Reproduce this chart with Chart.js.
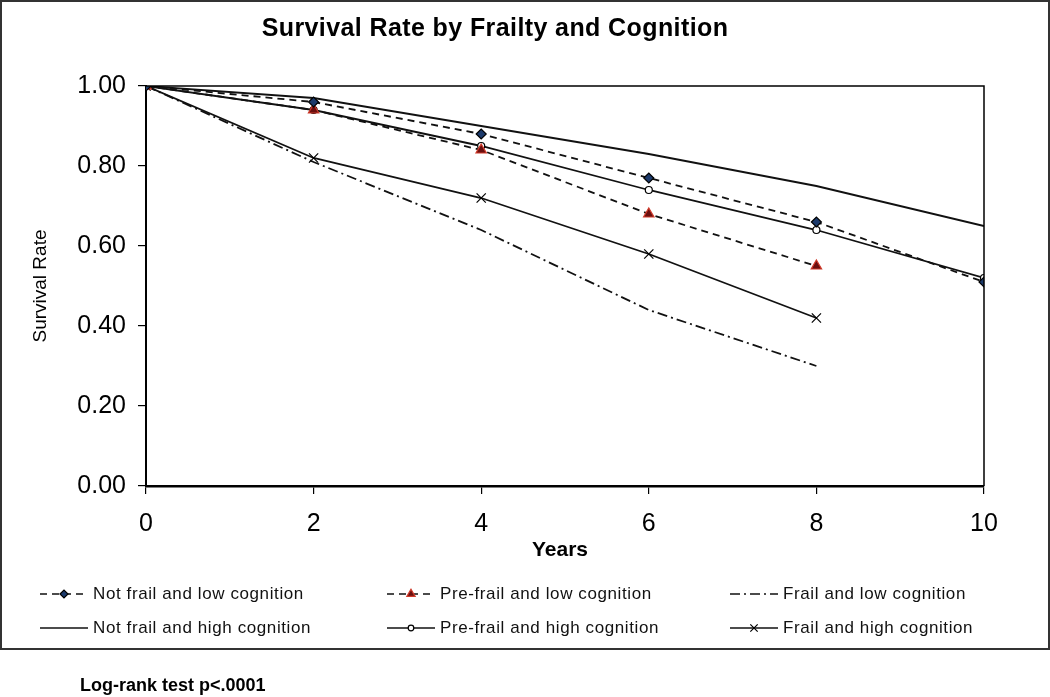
<!DOCTYPE html>
<html>
<head>
<meta charset="utf-8">
<script src="https://cdn.jsdelivr.net/npm/chart.js@4/dist/chart.umd.min.js"></script>
<style>
  html, body { margin:0; padding:0; background:#fff; }
  #wrap { position:relative; width:1050px; height:697px; overflow:hidden; font-family:"Liberation Sans", Arial, sans-serif; color:#000; }
  #frame { position:absolute; left:0; top:0; width:1050px; height:650px; box-sizing:border-box; border:2px solid #333; pointer-events:none; }
  canvas { position:absolute; left:0; top:0; }
  .t { position:absolute; white-space:nowrap; }
  #title { left:0; width:990px; top:27px; text-align:center; font-weight:bold; font-size:25px; letter-spacing:0.4px; transform:translateY(-50%); }
  #ytitle { left:40px; top:286px; font-size:19px; transform:translate(-50%,-50%) rotate(-90deg); }
  #xtitle { left:560px; top:549px; font-size:21px; font-weight:bold; transform:translate(-50%,-50%); }
  .lg { font-size:17px; letter-spacing:0.6px; transform:translateY(-50%); color:#111; }
  #note { left:80px; top:685px; font-size:18px; font-weight:bold; transform:translateY(-50%); }
</style>
</head>
<body>
<div id="wrap">
  <canvas id="c" width="1050" height="697"></canvas>
  <div id="frame"></div>
  <div class="t" id="title">Survival Rate by Frailty and Cognition</div>
  <div class="t" id="ytitle">Survival Rate</div>
  <div class="t" id="xtitle">Years</div>
  <div class="t" id="note">Log-rank test p&lt;.0001</div>
</div>
<script>
// ---- data ----
const years = [0, 2, 4, 6, 8, 10];
const seriesNames = [
  "Not frail and low cognition",
  "Pre-frail and low cognition",
  "Frail and low cognition",
  "Not frail and high cognition",
  "Pre-frail and high cognition",
  "Frail and high cognition"
];
const notFrailLow  = [1.00, 0.96, 0.88, 0.77, 0.66, 0.51];
const preFrailLow  = [1.00, 0.94, 0.84, 0.68, 0.55, null];
const frailLow     = [1.00, 0.81, 0.64, 0.44, 0.30, null];
const notFrailHigh = [1.00, 0.97, 0.90, 0.83, 0.75, 0.65];
const preFrailHigh = [1.00, 0.94, 0.85, 0.74, 0.64, 0.52];
const frailHigh    = [1.00, 0.82, 0.72, 0.58, 0.42, null];
const yTicks = [0, 0.2, 0.4, 0.6, 0.8, 1.0];
const xTicks = [0, 2, 4, 6, 8, 10];

const seriesValues = [notFrailLow, preFrailLow, frailLow, notFrailHigh, preFrailHigh, frailHigh];

function pts(vals) {
  const out = [];
  vals.forEach((v, i) => { if (v !== null) out.push({ x: years[i], y: v }); });
  return out;
}

const styles = [
  { dash: [7, 5], pointStyle: 'rectRot', radius: 5, bg: '#1c3a6b', bc: '#000' },
  { dash: [7, 5], pointStyle: 'triangle', radius: 6, bg: '#6b0f0f', bc: '#d03a2a' },
  { dash: [10, 4, 2, 4], pointStyle: false, radius: 0, bg: '#000', bc: '#000' },
  { dash: [], pointStyle: false, radius: 0, bg: '#000', bc: '#000' },
  { dash: [], pointStyle: 'circle', radius: 3.5, bg: '#fff', bc: '#000' },
  { dash: [], pointStyle: 'crossRot', radius: 6.5, bg: '#000', bc: '#000' }
];

const datasets = seriesValues.map((vals, i) => ({
  label: seriesNames[i],
  data: pts(vals),
  borderColor: '#111',
  borderWidth: 1.8,
  borderDash: styles[i].dash,
  pointStyle: styles[i].pointStyle || 'circle',
  pointRadius: styles[i].radius,
  pointBackgroundColor: styles[i].bg,
  pointBorderColor: styles[i].bc,
  pointBorderWidth: 1.2,
  tension: 0,
  fill: false
}));

const legendCols = [40, 387, 730];
const legendRows = [594, 628];
const sampleLen = 48;

const framePlugin = {
  id: 'framePlugin',
  afterDraw(chart) {
    const ctx = chart.ctx;
    const a = chart.chartArea;
    ctx.save();
    ctx.strokeStyle = '#000';
    ctx.lineWidth = 1.5;
    ctx.beginPath();
    ctx.moveTo(a.left, a.top); ctx.lineTo(a.right, a.top); ctx.lineTo(a.right, a.bottom);
    ctx.stroke();
    ctx.restore();
  },
  afterDatasetsDraw(chart) {
    const ctx = chart.ctx;
    chart.data.datasets.forEach((ds, i) => {
      const col = legendCols[i % 3];
      const y = legendRows[Math.floor(i / 3)];
      ctx.save();
      ctx.strokeStyle = ds.borderColor;
      ctx.lineWidth = 1.4;
      ctx.setLineDash(ds.borderDash);
      ctx.beginPath();
      ctx.moveTo(col, y); ctx.lineTo(col + sampleLen, y);
      ctx.stroke();
      ctx.setLineDash([]);
      if (ds.pointRadius > 0) {
        ctx.fillStyle = ds.pointBackgroundColor;
        ctx.strokeStyle = ds.pointBorderColor;
        ctx.lineWidth = ds.pointBorderWidth;
        Chart.helpers.drawPoint(ctx, { pointStyle: ds.pointStyle, radius: ds.pointRadius * 0.8, rotation: 0, borderWidth: ds.pointBorderWidth }, col + sampleLen / 2, y);
      }
      ctx.restore();
    });
  }
};

const wrap = document.getElementById('wrap');
seriesNames.forEach((name, i) => {
  const d = document.createElement('div');
  d.className = 't lg';
  d.textContent = name;
  d.style.left = (legendCols[i % 3] + sampleLen + 5) + 'px';
  d.style.top = legendRows[Math.floor(i / 3)] + 'px';
  wrap.appendChild(d);
});

new Chart(document.getElementById('c'), {
  type: 'line',
  data: { datasets },
  plugins: [framePlugin],
  options: {
    responsive: false,
    animation: false,
    events: [],
    layout: { padding: { top: 86, right: 66, bottom: 0, left: 0 } },
    plugins: { legend: { display: false }, title: { display: false }, tooltip: { enabled: false } },
    scales: {
      x: {
        type: 'linear', min: 0, max: 10,
        afterBuildTicks(s) { s.ticks = xTicks.map(v => ({ value: v })); },
        afterFit(s) { s.height = 697 - 486; },
        grid: { display: true, drawOnChartArea: false, drawTicks: true, tickLength: 8, color: '#000', lineWidth: 1.2 },
        border: { display: true, color: '#000', width: 2.5 },
        ticks: { color: '#000', font: { family: 'Liberation Sans', size: 25 }, padding: 15, callback: v => String(v) }
      },
      y: {
        type: 'linear', min: 0, max: 1,
        afterBuildTicks(s) { s.ticks = yTicks.map(v => ({ value: v })); },
        afterFit(s) { s.width = 146; },
        grid: { display: true, drawOnChartArea: false, drawTicks: true, tickLength: 8, color: '#000', lineWidth: 1.2 },
        border: { display: true, color: '#000', width: 2 },
        ticks: { color: '#000', font: { family: 'Liberation Sans', size: 25 }, padding: 12, callback: v => Number(v).toFixed(2) }
      }
    }
  }
});
</script>
</body>
</html>
